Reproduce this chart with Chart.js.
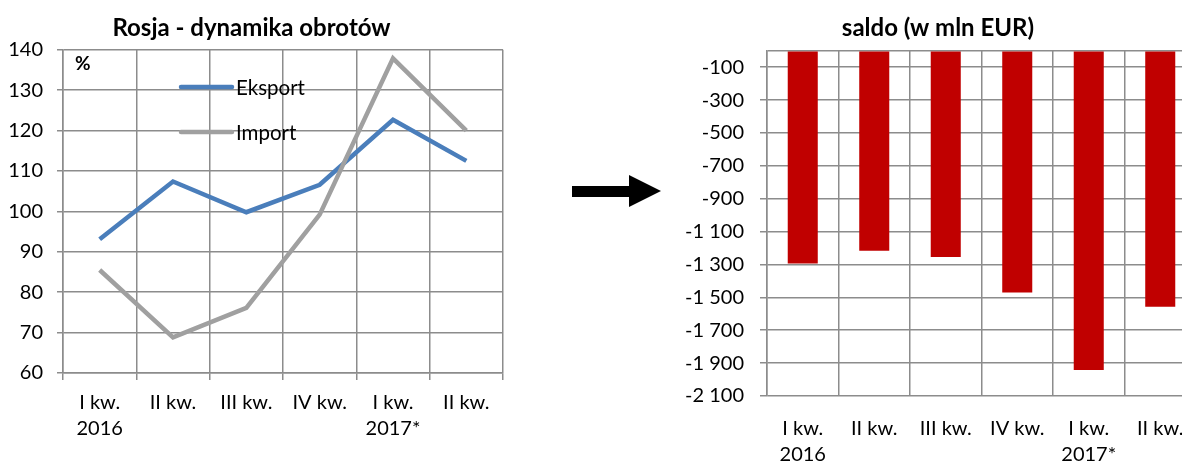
<!DOCTYPE html>
<html>
<head>
<meta charset="utf-8">
<script src="https://cdn.jsdelivr.net/npm/chart.js@4.4.1/dist/chart.umd.min.js"></script>
<style>
html,body{margin:0;padding:0;background:#fff;overflow:hidden;width:1182px;height:463px;}
#wrap{position:relative;width:1182px;height:463px;overflow:hidden;}
#c1{position:absolute;left:0;top:0;}
#c2{position:absolute;left:680px;top:0;}
#arrow{position:absolute;left:560px;top:165px;}
</style>
</head>
<body>
<div id="wrap">
<canvas id="c1" width="556" height="463"></canvas>
<svg id="arrow" width="110" height="60" viewBox="560 165 110 60">
  <polygon points="572,186 629,186 629,175 661,191 629,207 629,197 572,197" fill="#000"/>
</svg>
<canvas id="c2" width="556" height="463"></canvas>
</div>
<script>
// ---- data ----
const categories = [['I kw.', '2016'], ['II kw.'], ['III kw.'], ['IV kw.'], ['I kw.', '2017*'], ['II kw.']];
const eksport = [93.1, 107.4, 99.8, 106.6, 122.7, 112.5];
const importVals = [85.5, 68.8, 76.1, 99.2, 137.9, 120.0];
const saldo = [-1294, -1217, -1255, -1470, -1942, -1557];
const leftTitle = 'Rosja - dynamika obrotów';
const rightTitle = 'saldo (w mln EUR)';
const unitLabel = '%';
const rightTickValues = [-2100, -1900, -1700, -1500, -1300, -1100, -900, -700, -500, -300, -100, 0];

// ---- style ----
const FONT = 'Lato';
const GRID = '#8c8c8c';
const TXT = '#000';
const BLUE = '#4a7ebb';
const GRAY = '#a0a0a0';
const RED = '#c00000';

function fmt(v) {
  const s = String(Math.abs(v)).replace(/\B(?=(\d{3})+(?!\d))/g, ' ');
  return (v < 0 ? '-' : '') + s;
}

const insideLegend = {
  id: 'insideLegend',
  afterDatasetsDraw(chart) {
    const ctx = chart.ctx;
    ctx.save();
    ctx.font = 'bold 19px ' + FONT;
    ctx.fillStyle = TXT;
    ctx.textBaseline = 'middle';
    ctx.textAlign = 'left';
    ctx.fillText(unitLabel, 75, 64);
    const rows = [87, 132];
    chart.data.datasets.forEach((ds, i) => {
      const y = rows[i];
      ctx.strokeStyle = ds.borderColor;
      ctx.lineWidth = 4.5;
      ctx.lineCap = 'round';
      ctx.beginPath();
      ctx.moveTo(181, y);
      ctx.lineTo(232, y);
      ctx.stroke();
      ctx.font = '20.5px ' + FONT;
      ctx.fillStyle = TXT;
      ctx.fillText(ds.label, 236, y + 1);
    });
    ctx.restore();
  }
};

new Chart(document.getElementById('c1'), {
  type: 'line',
  data: {
    labels: categories,
    datasets: [
      { label: 'Eksport', data: eksport, borderColor: BLUE, backgroundColor: BLUE, borderWidth: 4.5, pointRadius: 0, tension: 0, order: 1 },
      { label: 'Import', data: importVals, borderColor: GRAY, backgroundColor: GRAY, borderWidth: 4.5, pointRadius: 0, tension: 0, order: 0 }
    ]
  },
  options: {
    responsive: false, animation: false, devicePixelRatio: 1,
    layout: { padding: { left: 0, right: 53, top: 0, bottom: 0 } },
    plugins: {
      legend: { display: false },
      tooltip: { enabled: false },
      title: { display: true, text: leftTitle, color: TXT, font: { family: FONT, size: 24, weight: 'bold', lineHeight: 1.2 }, padding: { top: 14, bottom: 7 } }
    },
    scales: {
      x: {
        offset: true,
        grid: { offset: true, color: GRID, lineWidth: 1.5, tickLength: 7, tickColor: GRID },
        border: { color: GRID, width: 1.5 },
        ticks: { color: TXT, font: { family: FONT, size: 20, lineHeight: 1.33 }, maxRotation: 0, autoSkip: false, padding: 9 },
        afterFit(s) { s.height = 90; }
      },
      y: {
        min: 60, max: 140,
        grid: { color: GRID, lineWidth: 1.5, tickLength: 6, tickColor: GRID },
        border: { color: GRID, width: 1.5 },
        ticks: { stepSize: 10, color: TXT, font: { family: FONT, size: 20 }, padding: 14 },
        afterFit(s) { s.width = 63; }
      }
    }
  },
  plugins: [insideLegend]
});

new Chart(document.getElementById('c2'), {
  type: 'bar',
  data: {
    labels: categories,
    datasets: [
      { label: 'saldo', data: saldo, backgroundColor: RED, borderWidth: 0, categoryPercentage: 1, barPercentage: 0.42 }
    ]
  },
  options: {
    responsive: false, animation: false, devicePixelRatio: 1,
    layout: { padding: { left: 0, right: 40, top: 0, bottom: 0 } },
    plugins: {
      legend: { display: false },
      tooltip: { enabled: false },
      title: { display: true, text: rightTitle, color: TXT, font: { family: FONT, size: 24, weight: 'bold', lineHeight: 1.2 }, padding: { top: 14, bottom: 8 } }
    },
    scales: {
      x: {
        offset: true,
        grid: { offset: true, color: GRID, lineWidth: 1.5, tickLength: 0 },
        border: { display: false },
        ticks: { color: TXT, font: { family: FONT, size: 20, lineHeight: 1.33 }, maxRotation: 0, autoSkip: false, padding: 19 },
        afterFit(s) { s.height = 67; }
      },
      y: {
        min: -2100, max: 0,
        afterBuildTicks(s) { s.ticks = rightTickValues.map(v => ({ value: v })); },
        grid: { color: GRID, lineWidth: 1.5, tickLength: 7, tickColor: (c) => (c.tick && c.tick.value === 0 ? 'rgba(0,0,0,0)' : GRID) },
        border: { color: GRID, width: 1.5 },
        ticks: { color: TXT, font: { family: FONT, size: 20 }, padding: 16, callback: (v) => (v === 0 ? '' : fmt(v)) },
        afterFit(s) { s.width = 87; }
      }
    }
  }
});
</script>
</body>
</html>
